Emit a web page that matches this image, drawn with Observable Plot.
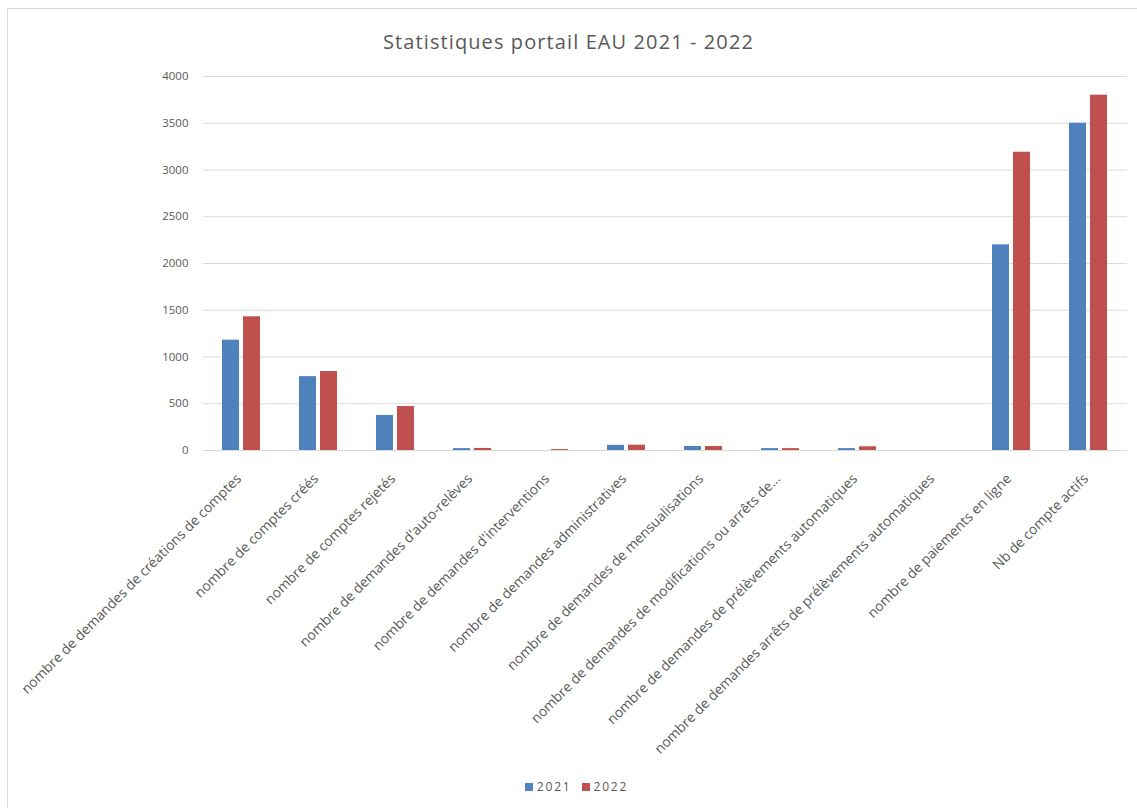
<!DOCTYPE html>
<html>
<head>
<meta charset="utf-8">
<script src="https://cdn.jsdelivr.net/npm/d3@7"></script>
<script src="https://cdn.jsdelivr.net/npm/@observablehq/plot@0.6"></script>
<style>
  html, body { margin: 0; padding: 0; background: #fff; }
  #frame { position: absolute; left: 7px; top: 8px; width: 1140px; height: 810px;
           border-left: 1px solid #d9d9d9; border-top: 1px solid #d9d9d9; box-sizing: border-box; }
  #title { position: absolute; left: 0; top: 28px; width: 1137px; text-align: center;
           font-family: "Open Sans", sans-serif; font-size: 20px; letter-spacing: 1.1px; color: #595959; }
  #chart { position: absolute; left: 0; top: 62px; }
  #legend { position: absolute; left: 8px; top: 778px; width: 1137px; text-align: center;
            font-family: "Open Sans", sans-serif; font-size: 12px; color: #595959; letter-spacing: 1.8px; }
  #legend span.sw { display: inline-block; width: 8px; height: 8px; margin-right: 4px; vertical-align: 0px; }
  #legend span.item { margin: 0 5px; }
</style>
</head>
<body>
<div id="frame"></div>
<div id="title">Statistiques portail EAU 2021 - 2022</div>
<div id="chart"></div>
<div id="legend"></div>
<script>
const categories = [
  "nombre de demandes de créations de comptes",
  "nombre de comptes créés",
  "nombre de comptes rejetés",
  "nombre de demandes d'auto-relèves",
  "nombre de demandes d'interventions",
  "nombre de demandes administratives",
  "nombre de demandes de mensualisations",
  "nombre de demandes de modifications ou arrêts de…",
  "nombre de demandes de prélèvements automatiques",
  "nombre de demandes arrêts de prélèvements automatiques",
  "nombre de paiements en ligne",
  "Nb de compte actifs"
];
const years = ["2021", "2022"];
const values2021 = [1180, 790, 375, 20, 0, 55, 43, 20, 20, 0, 2200, 3500];
const values2022 = [1430, 845, 470, 22, 10, 57, 43, 20, 40, 0, 3190, 3800];
const yTicks = [0, 500, 1000, 1500, 2000, 2500, 3000, 3500, 4000];
const colors = ["#4F81BD", "#C0504D"];

const data = [];
categories.forEach((c, i) => {
  data.push({category: c, year: years[0], value: values2021[i]});
  data.push({category: c, year: years[1], value: values2022[i]});
});

const chart = Plot.plot({
  width: 1137,
  height: 700,
  marginTop: 14,
  marginBottom: 312,
  marginLeft: 202,
  marginRight: 10,
  style: { fontFamily: "'Open Sans', sans-serif", color: "#595959", background: "transparent" },
  fx: { domain: categories, padding: 0, axis: null, label: null },
  x: { domain: years, paddingInner: 0.186, paddingOuter: 0.884, axis: null },
  y: { domain: [0, 4000], axis: null, label: null },
  color: { domain: years, range: colors },
  marks: [
    Plot.gridY(yTicks, { stroke: "#d9d9d9", strokeOpacity: 1 }),
    Plot.axisY(yTicks, { tickSize: 0, tickPadding: 15, fontSize: 11.5, fill: "#595959", label: null,
      tickFormat: d => String(d), style: "letter-spacing:1.8px" }),
    Plot.barY(data, { fx: "category", x: "year", y: "value", fill: "year" }),
    Plot.axisFx({ anchor: "bottom", tickRotate: -45, tickSize: 0, tickPadding: 26, dx: -3,
      fontSize: 13.8, fill: "#595959", label: null }),
    Plot.ruleY([0], { stroke: "#d9d9d9" })
  ]
});
document.getElementById("chart").appendChild(chart);

const legend = document.getElementById("legend");
years.forEach((y, i) => {
  const item = document.createElement("span");
  item.className = "item";
  const sw = document.createElement("span");
  sw.className = "sw";
  sw.style.background = colors[i];
  item.appendChild(sw);
  item.appendChild(document.createTextNode(y));
  legend.appendChild(item);
});
</script>
</body>
</html>
